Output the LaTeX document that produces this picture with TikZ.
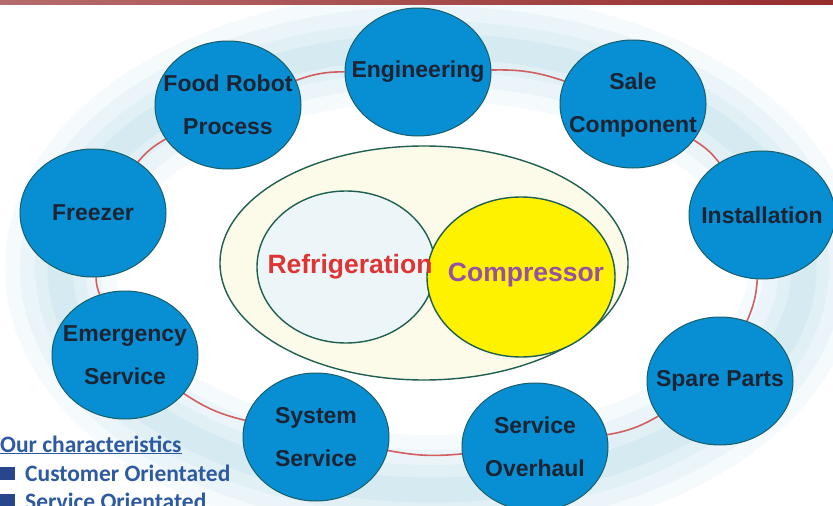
\documentclass[tikz,border=0pt]{standalone}
\usepackage{fontspec}
\setmainfont{Liberation Sans}
\newfontfamily\calib{Carlito}
\usetikzlibrary{shapes.geometric}
\pgfdeclarelayer{background}
\pgfsetlayers{background,main}
\definecolor{nodeblue}{RGB}{8,142,210}
\definecolor{nodeline}{RGB}{25,95,105}
\definecolor{nodetext}{RGB}{28,36,52}
\definecolor{ringred}{RGB}{210,95,95}
\definecolor{glow}{RGB}{165,215,228}
\definecolor{vennline}{RGB}{30,95,80}
\definecolor{cream}{RGB}{252,250,232}
\definecolor{refill}{RGB}{236,246,249}
\definecolor{refred}{RGB}{222,52,52}
\definecolor{comppurple}{RGB}{150,80,165}
\definecolor{charblue}{RGB}{45,90,160}
\definecolor{bulletblue}{RGB}{40,70,140}
\definecolor{topred}{RGB}{150,45,45}
\begin{document}
\begin{tikzpicture}[x=1pt,y=-1pt,
  svc/.style={ellipse, draw=nodeline, line width=1pt, fill=nodeblue,
    minimum width=146pt, minimum height=128pt, inner sep=0pt},
  svctext/.style={align=center, inner sep=0pt,
    font=\fontsize{23}{43}\selectfont\bfseries, text=nodetext},
  link/.style={draw=ringred, line width=1.6pt},
  venn/.style={ellipse, draw=vennline, line width=1.4pt, inner sep=0pt},
  charfont/.style={font=\calib\fontsize{23.5}{28}\selectfont\bfseries, text=charblue, anchor=base west, inner sep=0pt}
]
\useasboundingbox (0,0) rectangle (833,506);

% ring nodes
\node[svc] (eng)  at (418,72)  {};
\node[svc] (sale) at (633,104) {};
\node[svc] (inst) at (762,215) {};
\node[svc] (spare) at (720,381) {};
\node[svc] (over) at (535,447) {};
\node[svc] (sys)  at (316,437) {};
\node[svc] (emer) at (125,355) {};
\node[svc] (frz)  at (93,213)  {};
\node[svc] (food) at (228,105) {};

\node[svctext] (eng-t) at (eng.center) {Engineering};
\node[svctext] (sale-t) at ([yshift=-1pt]sale.center) {Sale\\Component};
\node[svctext] (inst-t) at (inst.center) {Installation};
\node[svctext] (spare-t) at (spare.center) {Spare Parts};
\node[svctext] (over-t) at (over.center) {Service\\Overhaul};
\node[svctext] (sys-t) at (sys.center) {System\\Service};
\node[svctext] (emer-t) at (emer.center) {Emergency\\Service};
\node[svctext] (frz-t) at (frz.center) {Freezer};
\node[svctext] (food-t) at (food.center) {Food Robot\\Process};

\begin{pgfonlayer}{background}
  \fill[white] (0,0) rectangle (833,506);
  \foreach \w/\o in {110/0.10, 80/0.12, 50/0.15, 25/0.18} {
    \draw[glow, line width=\w pt, opacity=\o] (432,268) ellipse [x radius=372, y radius=222];
  }
  \draw[link] (eng) to[bend left=10] (sale);
  \draw[link] (sale) to[bend left=10] (inst);
  \draw[link] (inst) to[bend left=10] (spare);
  \draw[link] (spare) to[bend left=10] (over);
  \draw[link] (over) to[bend left=8] (sys);
  \draw[link] (sys) to[bend left=10] (emer);
  \draw[link] (emer) to[bend left=10] (frz);
  \draw[link] (frz) to[bend left=10] (food);
  \draw[link] (food) to[bend left=10] (eng);
\end{pgfonlayer}
\shade[left color=topred!70, right color=topred, middle color=topred!85] (0,0) rectangle (833,4);

% central Venn
\node[venn, fill=cream, minimum width=408pt, minimum height=234pt] (outer) at (424,263) {};
\node[venn, fill=refill, minimum width=178pt, minimum height=152pt] (refc) at (346,267) {};
\node[venn, fill=yellow, minimum width=188pt, minimum height=160pt] (compc) at (521,277) {};
\node[font=\fontsize{26.5}{30}\selectfont\bfseries, text=refred, inner sep=0pt] (reflab) at (350,267) {Refrigeration};
\node[font=\fontsize{26.5}{30}\selectfont\bfseries, text=comppurple, inner sep=0pt] (complab) at (526,275) {Compressor};

% characteristics
\node[charfont] (chartitle) at (0,452) {\underline{Our characteristics}};
\fill[bulletblue] (0,467) rectangle (15,480);
\node[charfont] (c1) at (25,481) {Customer Orientated};
\fill[bulletblue] (0,494) rectangle (15,507);
\node[charfont] (c2) at (25,509) {Service Orientated};
\end{tikzpicture}
\end{document}
